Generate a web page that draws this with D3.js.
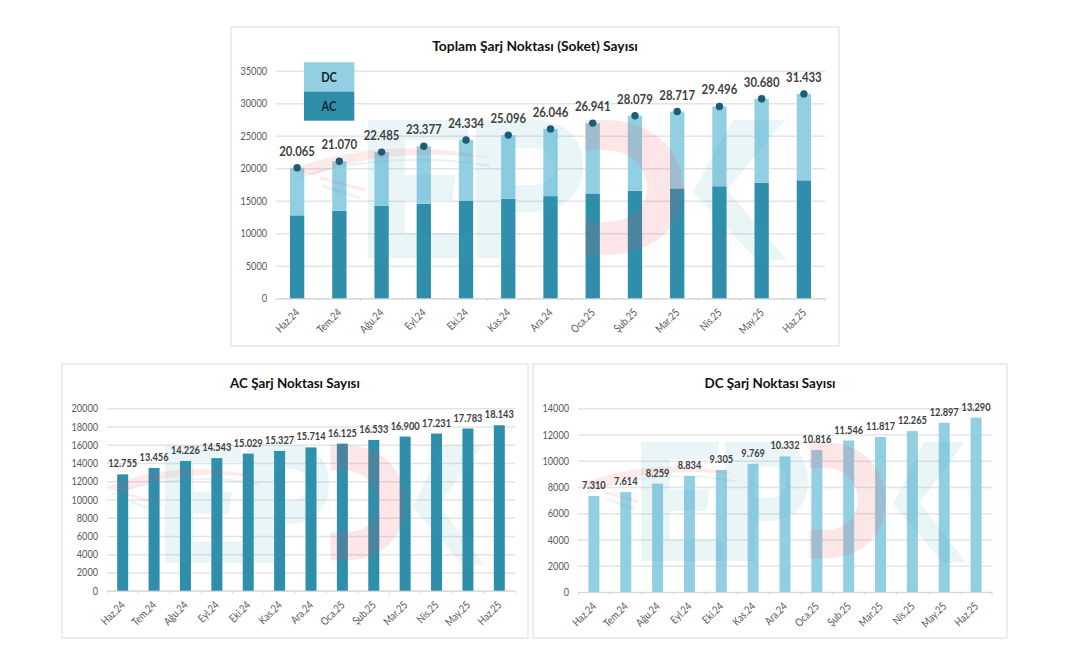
<!DOCTYPE html>
<html>
<head>
<meta charset="utf-8">
<script src="https://cdn.jsdelivr.net/npm/d3@7"></script>
<style>
  html, body { margin: 0; padding: 0; background: #fff; }
  svg { display: block; font-family: Lato, "Open Sans", sans-serif; }
</style>
</head>
<body>
<script>
var months = ["Haz.24", "Tem.24", "Ağu.24", "Eyl.24", "Eki.24", "Kas.24", "Ara.24", "Oca.25", "Şub.25", "Mar.25", "Nis.25", "May.25", "Haz.25"];
var acValues = [12755, 13456, 14226, 14543, 15029, 15327, 15714, 16125, 16533, 16900, 17231, 17783, 18143];
var dcValues = [7310, 7614, 8259, 8834, 9305, 9769, 10332, 10816, 11546, 11817, 12265, 12897, 13290];
var totalValues = [20065, 21070, 22485, 23377, 24334, 25096, 26046, 26941, 28079, 28717, 29496, 30680, 31433];
var totalTicks = [0, 5000, 10000, 15000, 20000, 25000, 30000, 35000];
var acTicks = [0, 2000, 4000, 6000, 8000, 10000, 12000, 14000, 16000, 18000, 20000];
var dcTicks = [0, 2000, 4000, 6000, 8000, 10000, 12000, 14000];

var acColor = "#2f8fab", dcColor = "#93cfe2", dotColor = "#1d5c75";
var labelFormat = d3.formatLocale({ decimal: ",", thousands: ".", grouping: [3], currency: ["", ""] }).format(",d");

var svg = d3.select("body").append("svg").attr("width", 1068).attr("height", 660);

// Lato runs wider than the original font, squeeze the glyphs a bit
function condense(selection, k) {
  selection.each(function() {
    this.setAttribute("textLength", this.getComputedTextLength() * k);
    this.setAttribute("lengthAdjust", "spacingAndGlyphs");
  });
}

// faded logo that sits over the bars, local box is 420 x 138
function drawWatermark(x, y, sx, sy) {
  var g = svg.append("g").attr("transform", "translate(" + x + "," + y + ") scale(" + sx + "," + sy + ")");
  var blue = "rgb(62,162,192)", red = "rgb(243,79,90)";
  // E
  g.append("path").attr("fill", blue).attr("opacity", 0.11)
    .attr("d", "M0 0H100V20H37V55H88L84 80H37V113H105V138H0Z");
  // P
  g.append("path").attr("fill", blue).attr("opacity", 0.11).attr("fill-rule", "evenodd")
    .attr("d", "M108 0H165C200 0 215 20 215 45C215 75 195 92 160 92H147V138H108ZM147 28V65H165C178 65 187 58 187 46C187 36 180 28 165 28Z");
  // D
  g.append("path").attr("fill", red).attr("opacity", 0.14)
    .attr("d", "M217 0H235C285 0 315 30 315 68C315 108 285 135 235 135H217V102H235C262 102 279 90 279 68C279 46 262 30 235 30H217Z");
  // K
  g.append("path").attr("fill", blue).attr("opacity", 0.11)
    .attr("d", "M365 0H417L359 70L419 140H389L325 72Z");
  // swoosh
  g.append("path").attr("fill", red).attr("opacity", 0.12)
    .attr("d", "M-78 50C-20 26 60 22 122 38C60 31 -10 35 -55 56Z");
  g.append("path").attr("fill", "none").attr("stroke", blue).attr("stroke-width", 2).attr("opacity", 0.12)
    .attr("d", "M-70 58C-20 40 60 34 122 46");
  g.append("path").attr("fill", "none").attr("stroke", red).attr("stroke-width", 3).attr("opacity", 0.12)
    .attr("d", "M-48 58L-3 70");
  g.append("path").attr("fill", "none").attr("stroke", blue).attr("stroke-width", 3).attr("opacity", 0.12)
    .attr("d", "M-45 66L-8 78");
}

// panel frame, title, grid and both axes, returns the scales
function drawFrame(box, plot, title, yMax, ticks, titleSize) {
  svg.append("rect")
    .attr("x", box.x).attr("y", box.y)
    .attr("width", box.w).attr("height", box.h)
    .attr("fill", "#fff").attr("stroke", "#dcdcdc").attr("stroke-width", 1);

  svg.append("text")
    .attr("x", box.x + box.w / 2).attr("y", box.y + 24)
    .attr("text-anchor", "middle")
    .attr("font-size", titleSize).attr("font-weight", 700)
    .attr("fill", "#111").text(title);

  var x = d3.scaleBand().domain(months).range([plot.left, plot.right]);
  var y = d3.scaleLinear().domain([0, yMax]).range([plot.bottom, plot.top]);

  var grid = svg.append("g")
    .attr("transform", "translate(" + plot.left + ",0)")
    .call(d3.axisLeft(y).tickValues(ticks).tickSize(-(plot.right - plot.left)).tickPadding(9).tickFormat(d3.format("d")));
  grid.select(".domain").remove();
  grid.selectAll("line").attr("stroke", "#e4e4e4").attr("stroke-width", 1.4);
  grid.selectAll("text").attr("font-size", 11).attr("font-family", "Lato").attr("fill", "#595959")
    .call(condense, 0.83);

  var xAxis = svg.append("g")
    .attr("transform", "translate(0," + plot.bottom + ")")
    .call(d3.axisBottom(x).tickSize(0));
  xAxis.select(".domain").attr("stroke", "#d9d9d9").attr("stroke-width", 1.2);
  xAxis.selectAll("text")
    .attr("font-size", 11).attr("font-family", "Lato").attr("fill", "#595959")
    .attr("text-anchor", "end")
    .attr("dy", null).attr("y", 0)
    .attr("transform", "translate(3,15) rotate(-45)")
    .call(condense, 0.83);

  // tick marks fall between the categories
  svg.append("g").selectAll("line")
    .data(months.concat(["end"]))
    .join("line")
    .attr("x1", function(d, i) { return plot.left + i * x.step(); })
    .attr("x2", function(d, i) { return plot.left + i * x.step(); })
    .attr("y1", plot.bottom).attr("y2", plot.bottom + 3)
    .attr("stroke", "#d9d9d9");

  return { x: x, y: y };
}

function barLeft(s, d, w) {
  return s.x(d) + (s.x.bandwidth() - w) / 2;
}

function drawSingle(box, plot, title, yMax, ticks, values, color, wm) {
  var s = drawFrame(box, plot, title, yMax, ticks, 13.4);
  var w = 11;
  svg.append("g").selectAll("rect")
    .data(months)
    .join("rect")
    .attr("x", function(d) { return barLeft(s, d, w); })
    .attr("y", function(d, i) { return s.y(values[i]); })
    .attr("width", w)
    .attr("height", function(d, i) { return s.y(0) - s.y(values[i]); })
    .attr("fill", color);

  drawWatermark(wm[0], wm[1], wm[2], wm[3]);

  svg.append("g").selectAll("text")
    .data(months)
    .join("text")
    .attr("x", function(d) { return s.x(d) + s.x.bandwidth() / 2; })
    .attr("y", function(d, i) { return s.y(values[i]) - 7; })
    .attr("text-anchor", "middle")
    .attr("font-size", 11).attr("font-weight", 700).attr("fill", "#404040")
    .text(function(d, i) { return labelFormat(values[i]); })
    .call(condense, 0.84);
}

// top chart, stacked AC + DC with the total as dots
var topChart = drawFrame(
  { x: 231, y: 27, w: 608, h: 319 },
  { left: 276, right: 825, top: 70.7, bottom: 298.3 },
  "Toplam Şarj Noktası (Soket) Sayısı", 35000, totalTicks, 13.8
);
var topBar = 14.3;

svg.append("g").selectAll("rect")
  .data(months)
  .join("rect")
  .attr("x", function(d) { return barLeft(topChart, d, topBar); })
  .attr("y", function(d, i) { return topChart.y(acValues[i]); })
  .attr("width", topBar)
  .attr("height", function(d, i) { return topChart.y(0) - topChart.y(acValues[i]); })
  .attr("fill", acColor);

svg.append("g").selectAll("rect")
  .data(months)
  .join("rect")
  .attr("x", function(d) { return barLeft(topChart, d, topBar); })
  .attr("y", function(d, i) { return topChart.y(acValues[i] + dcValues[i]); })
  .attr("width", topBar)
  .attr("height", function(d, i) { return topChart.y(0) - topChart.y(dcValues[i]); })
  .attr("fill", dcColor);

drawWatermark(368, 120, 1, 1);

svg.append("g").selectAll("circle")
  .data(months)
  .join("circle")
  .attr("cx", function(d) { return topChart.x(d) + topChart.x.bandwidth() / 2; })
  .attr("cy", function(d, i) { return topChart.y(totalValues[i]); })
  .attr("r", 3.7)
  .attr("fill", dotColor);

svg.append("g").selectAll("text")
  .data(months)
  .join("text")
  .attr("x", function(d) { return topChart.x(d) + topChart.x.bandwidth() / 2; })
  .attr("y", function(d, i) { return topChart.y(totalValues[i]) - 12; })
  .attr("text-anchor", "middle")
  .attr("font-size", 13).attr("font-weight", 700).attr("fill", "#404040")
  .text(function(d, i) { return labelFormat(totalValues[i]); })
  .call(condense, 0.875);

// legend blocks
var legendNames = ["DC", "AC"];
var legendColors = [dcColor, acColor];
legendNames.forEach(function(name, i) {
  svg.append("rect")
    .attr("x", 304).attr("y", 62.3 + i * 29.2)
    .attr("width", 50.3).attr("height", 29.2)
    .attr("fill", legendColors[i]);
  svg.append("text")
    .attr("x", 329).attr("y", 81.5 + i * 29.2)
    .attr("text-anchor", "middle")
    .attr("font-size", 13).attr("font-weight", 700).attr("fill", "#0e2433")
    .text(name)
    .call(condense, 0.85);
});

drawSingle(
  { x: 62, y: 364, w: 466, h: 274 },
  { left: 107, right: 515, top: 408.3, bottom: 590.7 },
  "AC Şarj Noktası Sayısı", 20000, acTicks, acValues, acColor, [165, 445, 0.762, 0.855]
);

drawSingle(
  { x: 533, y: 364, w: 474, h: 274 },
  { left: 578, right: 992, top: 408.3, bottom: 592 },
  "DC Şarj Noktası Sayısı", 14000, dcTicks, dcValues, dcColor, [641, 442, 0.776, 0.862]
);
</script>
</body>
</html>
